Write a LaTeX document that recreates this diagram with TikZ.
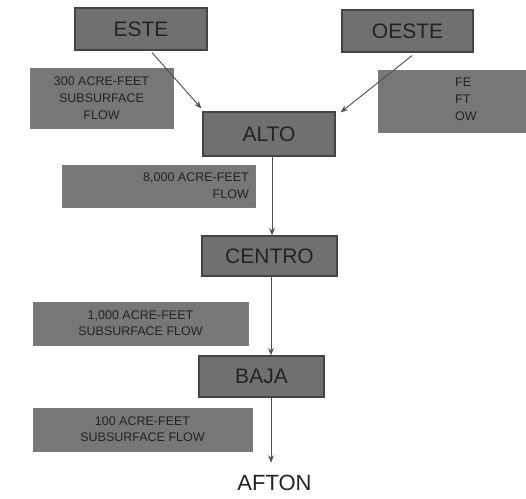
\documentclass[tikz,border=0pt]{standalone}
\usepackage{fontspec}
\setmainfont{Liberation Sans}
\usetikzlibrary{arrows.meta,positioning,calc}
\definecolor{slate}{RGB}{112,112,112}
\definecolor{ink}{RGB}{35,35,35}
\definecolor{paper}{RGB}{255,255,255}

\begin{document}
\begin{tikzpicture}[x=1pt,y=-1pt,
          blk/.style={draw=ink!85,line width=1.2pt,fill=slate,text=ink,
                      inner sep=0pt,font=\fontsize{21}{24}\selectfont},
          note/.style={draw=ink!60,line width=0.6pt,fill=slate!95,text=ink,
                       inner sep=0pt,align=center,font=\fontsize{12.5}{16}\selectfont},
          notetx/.style={font=\fontsize{12.5}{17}\selectfont,text=ink,inner sep=0pt},
          ar/.style={-{Stealth[length=2.6mm,width=2mm]},draw=ink!80,line width=0.9pt}
        ]
        \useasboundingbox (0,0) rectangle (526,498);
        \clip (0,0) rectangle (526,498);
        % the five zones
        \node[blk,minimum width=132pt,minimum height=42pt] (este) at (141,29) {ESTE};
        \node[blk,minimum width=131pt,minimum height=42pt] (oeste) at (407.5,31) {OESTE};
        \node[blk,minimum width=132pt,minimum height=44pt] (alto) at (269,134) {ALTO};
        \node[blk,minimum width=135pt,minimum height=40pt] (centro) at (269.5,256) {CENTRO};
        \node[blk,minimum width=125pt,minimum height=41pt] (baja) at (261.5,376.5) {BAJA};
        \node[font=\fontsize{22}{24}\selectfont,text=ink] (afton) at (274.5,483) {AFTON};
        % flow notes
        \node[note,minimum width=143pt,minimum height=60pt,font=\fontsize{12.5}{17}\selectfont]
             (nalto) at (101.5,98) {300 ACRE-FEET\\SUBSURFACE\\FLOW};
        \node[note,minimum width=160pt,minimum height=62pt] (noeste) at (458,101) {};
        \node[notetx,align=left,anchor=north west] (noestetx) at (455,78) {FE\\FT\\OW};
        \node[note,minimum width=193pt,minimum height=42pt] (ncentro) at (158.5,186) {};
        \node[notetx,align=right,anchor=north east] (ncentrotx) at (249,173) {8,000 ACRE-FEET\\FLOW};
        \node[note,minimum width=215pt,minimum height=43pt] (nbaja) at (140.5,323.5)
             {1,000 ACRE-FEET\\SUBSURFACE FLOW};
        \node[note,minimum width=219pt,minimum height=43pt] (nafton) at (142.5,429.5)
             {100 ACRE-FEET\\SUBSURFACE FLOW};
        % connectors
        \draw[ar] ([xshift=11pt,yshift=-2pt]este.south) -- ([xshift=-1pt,yshift=3pt]alto.north west);
        \draw[ar] ([xshift=4.5pt,yshift=-3pt]oeste.south) -- ([xshift=5pt,yshift=-1pt]alto.north east);
        \draw[ar] ([xshift=3pt]alto.south) -- ([xshift=2.5pt]centro.north);
        \draw[ar] ([xshift=1.5pt]centro.south) -- ([xshift=1.5pt]centro.south |- baja.north);
        \draw[ar,shorten >=9pt] ([xshift=9.5pt]baja.south) -- ([xshift=9.5pt]baja.south |- afton.north);
      \end{tikzpicture}
\end{document}
